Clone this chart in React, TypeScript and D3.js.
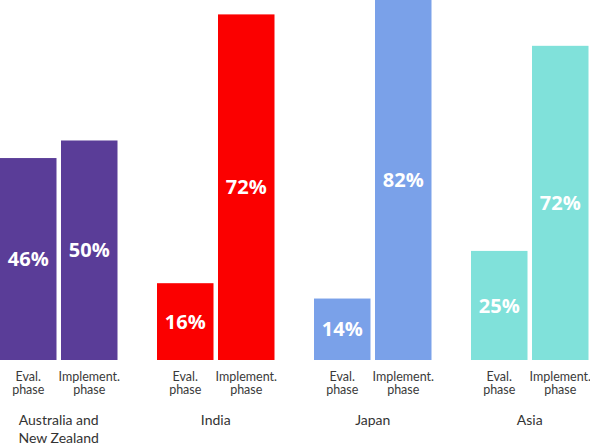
import React from "react";
import * as d3 from "d3";

const regions = ["Australia and\nNew Zealand", "India", "Japan", "Asia"];
const phases = ["Eval.\nphase", "Implement.\nphase"];
const evalValues = [46, 16, 14, 25];
const implementValues = [50, 72, 82, 72];
const regionScaleMax = [82, 75, 82, 82.5];
const regionColors = ["#5a3d98", "#fb0000", "#7aa1e9", "#80e1da"];

const W = 590;
const H = 447;
const baseY = 360;
const groupStep = 157;
const barW = 56.5;
const barOffset = 61;

export default function App() {
  const groupX = d3
    .scaleBand<number>()
    .domain(d3.range(regions.length))
    .range([0, groupStep * regions.length])
    .paddingInner(0)
    .paddingOuter(0);
  const innerX = d3
    .scaleOrdinal<number, number>()
    .domain([0, 1])
    .range([0, barOffset]);

  return (
    <svg
      width={W}
      height={H}
      style={{ position: "absolute", left: 0, top: 0, display: "block" }}
    >
      <rect x={0} y={0} width={W} height={H} fill="#ffffff" />
      {regions.map((region, gi) => {
        const y = d3
          .scaleLinear()
          .domain([0, regionScaleMax[gi]])
          .range([baseY, 0]);
        const vals = [evalValues[gi], implementValues[gi]];
        const gx = groupX(gi) as number;
        const groupCenter = gx + (barOffset + barW) / 2;
        const regionLines = region.split("\n");
        return (
          <g key={region}>
            {vals.map((v, bi) => {
              const x = gx + innerX(bi);
              const top = y(v);
              const mid = (Math.max(top, 0) + baseY) / 2;
              const phaseLines = phases[bi].split("\n");
              return (
                <g key={bi}>
                  <rect
                    x={x}
                    y={top}
                    width={barW}
                    height={baseY - top}
                    fill={regionColors[gi]}
                  />
                  <text
                    x={x + barW / 2}
                    y={mid}
                    dy="0.36em"
                    textAnchor="middle"
                    fill="#ffffff"
                    fontFamily="'Open Sans', sans-serif"
                    fontWeight={700}
                    fontSize={20}
                  >
                    {v}%
                  </text>
                  {phaseLines.map((ln, li) => (
                    <text
                      key={li}
                      x={x + barW / 2}
                      y={381 + li * 12.7}
                      textAnchor="middle"
                      fill="#3a3a3a"
                      fontFamily="Lato, sans-serif"
                      fontSize={12.5}
                    >
                      {ln}
                    </text>
                  ))}
                </g>
              );
            })}
            {regionLines.map((ln, li) => (
              <text
                key={li}
                x={groupCenter}
                y={425 + li * 17.7}
                textAnchor="middle"
                fill="#333333"
                fontFamily="Lato, sans-serif"
                fontSize={14}
              >
                {ln}
              </text>
            ))}
          </g>
        );
      })}
    </svg>
  );
}
